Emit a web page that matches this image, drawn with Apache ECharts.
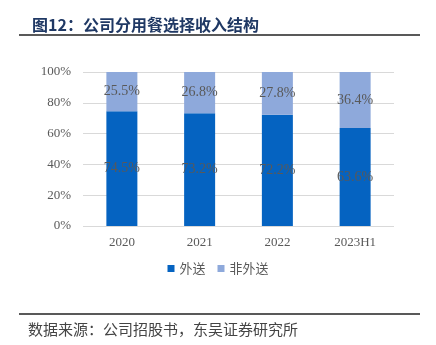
<!DOCTYPE html>
<html>
<head>
<meta charset="utf-8">
<script src="https://cdn.jsdelivr.net/npm/echarts@6/dist/echarts.min.js"></script>
<style>
  html, body { margin: 0; padding: 0; background: #fff; }
  #chart { width: 436px; height: 345px; }
</style>
</head>
<body>
<div id="chart"></div>
<script>
// Revenue mix by dining choice (share, %)
const categories = ['2020', '2021', '2022', '2023H1'];
const deliveryShare = [74.5, 73.2, 72.2, 63.6];     // 外送
const nonDeliveryShare = [25.5, 26.8, 27.8, 36.4];  // 非外送
const yTicks = [0, 20, 40, 60, 80, 100];

const chart = echarts.init(document.getElementById('chart'));

const labelStyle = {
  show: true,
  position: 'inside',
  formatter: p => p.value.toFixed(1) + '%',
  color: '#595959',
  fontFamily: 'Liberation Serif',
  fontSize: 14
};

chart.setOption({
  animation: false,
  title: {
    text: '图12：公司分用餐选择收入结构',
    left: 27,
    top: 12,
    textStyle: { fontFamily: 'Noto Sans CJK SC', fontWeight: 'bold', fontSize: 16, color: '#1F3864' }
  },
  graphic: [
    { type: 'line', shape: { x1: 19, y1: 35, x2: 420, y2: 35 }, style: { stroke: '#222', lineWidth: 1.5 } },
    { type: 'line', shape: { x1: 19, y1: 314, x2: 420, y2: 314 }, style: { stroke: '#222', lineWidth: 1.5 } },
    { type: 'text', left: 28, top: 322, style: { text: '数据来源：公司招股书，东吴证券研究所', font: '15px "Noto Sans CJK SC"', fill: '#444' } }
  ],
  legend: {
    bottom: 65,
    left: 'center',
    itemWidth: 7,
    itemHeight: 7,
    itemGap: 12,
    icon: 'rect',
    textStyle: { fontFamily: 'Noto Sans CJK SC', fontSize: 13, color: '#595959' },
    data: ['外送', '非外送']
  },
  grid: { left: 83, right: 42, top: 72, bottom: 119 },
  xAxis: {
    type: 'category',
    data: categories,
    axisLine: { show: false },
    axisTick: { show: false },
    axisLabel: { color: '#595959', fontFamily: 'Liberation Serif', fontSize: 13, margin: 10 }
  },
  yAxis: {
    type: 'value',
    min: yTicks[0],
    max: yTicks[yTicks.length - 1],
    interval: 20,
    axisLine: { show: false },
    axisTick: { show: false },
    splitLine: { lineStyle: { color: '#D9D9D9', width: 1 } },
    axisLabel: { color: '#595959', fontFamily: 'Liberation Serif', fontSize: 13, margin: 12, formatter: '{value}%' }
  },
  series: [
    {
      name: '外送',
      type: 'bar',
      stack: 'total',
      barWidth: 31,
      data: deliveryShare,
      itemStyle: { color: '#0563C1' },
      label: labelStyle
    },
    {
      name: '非外送',
      type: 'bar',
      stack: 'total',
      barWidth: 31,
      data: nonDeliveryShare,
      itemStyle: { color: '#8EA9DB' },
      label: labelStyle
    }
  ]
});
</script>
</body>
</html>
